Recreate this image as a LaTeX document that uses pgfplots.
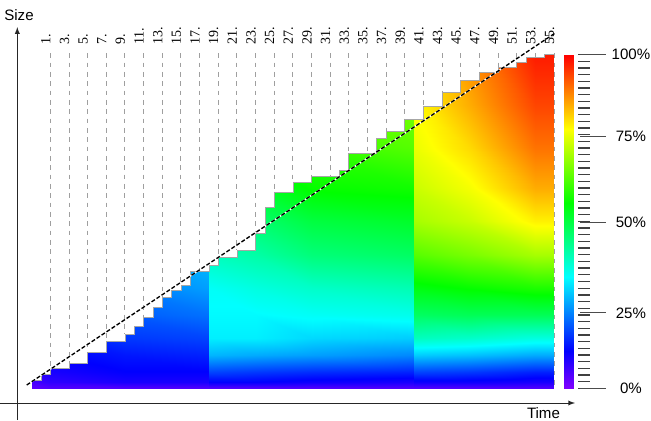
\documentclass[border=0pt]{standalone}
\usepackage{fontspec}
\setmainfont{Liberation Sans}
\newfontfamily\lblfont{Liberation Serif}
\usepackage{pgfplots}
\pgfplotsset{compat=1.18}

% rainbow: hue 270 (violet) -> 0 (red)
\pgfplotsset{colormap={hue}{rgb255(0cm)=(127,0,255) rgb255(1cm)=(0,0,255) rgb255(3cm)=(0,255,255) rgb255(5cm)=(0,255,0) rgb255(7cm)=(255,255,0) rgb255(9cm)=(255,0,0)}}

\begin{document}
\begin{tikzpicture}
\begin{axis}[
  x=6.995pt, y=2.5035pt,
  xmin=-3.399, xmax=66.40, ymin=-9.497, ymax=116.33,
  hide axis, clip=false,
  colormap name=hue,
  point meta min=0, point meta max=100,
  unbounded coords=jump,
]
% colour field (share at each height), rows = levels, 12 x nodes per row
\addplot[surf, shader=interp, mesh/cols=12, point meta=explicit]
  table[x=x, y=y, meta=c, row sep=\\] {
x y c \\
0 0 3 \\ 2 0 4 \\ 10 0 4 \\ 19 0 4 \\ 19 0 4 \\ 24 0 4 \\ 30 0 4 \\ 41 0 4 \\ 41 0 4 \\ 47 0 4 \\ 54 0 4 \\ 56 0 4 \\
0 2 5 \\ 2 2 7 \\ 10 2 9 \\ 19 2 9 \\ 19 2 11 \\ 24 2 11 \\ 30 2 10 \\ 41 2 9 \\ 41 2 10 \\ 47 2 10 \\ 54 2 9 \\ 56 2 9 \\
0 5 7 \\ 2 5 9 \\ 10 5 11 \\ 19 5 11 \\ 19 5 17 \\ 24 5 16 \\ 30 5 15 \\ 41 5 14 \\ 41 5 17 \\ 47 5 16 \\ 54 5 14 \\ 56 5 14 \\
0 10 10 \\ 2 10 11 \\ 10 10 13 \\ 19 10 14 \\ 19 10 27 \\ 24 10 26 \\ 30 10 25 \\ 41 10 23 \\ 41 10 29 \\ 47 10 28 \\ 54 10 26 \\ 56 10 26 \\
0 15 12 \\ 2 15 13 \\ 10 15 16 \\ 19 15 17 \\ 19 15 32 \\ 24 15 32 \\ 30 15 30 \\ 41 15 29 \\ 41 15 39 \\ 47 15 38 \\ 54 15 36 \\ 56 15 36 \\
0 22 14 \\ 2 22 15 \\ 10 22 19 \\ 19 22 21 \\ 19 22 33 \\ 24 22 33 \\ 30 22 34 \\ 41 22 35 \\ 41 22 47 \\ 47 22 48 \\ 54 22 48 \\ 56 22 48 \\
0 30 16 \\ 2 30 17 \\ 10 30 22 \\ 19 30 25 \\ 19 30 34 \\ 24 30 36 \\ 30 30 38 \\ 41 30 40 \\ 41 30 54 \\ 47 30 56 \\ 54 30 58 \\ 56 30 58 \\
0 40 18 \\ 2 40 19 \\ 10 40 25 \\ 19 40 28 \\ 19 40 39 \\ 24 40 41 \\ 30 40 45 \\ 41 40 47 \\ 41 40 63 \\ 47 40 66 \\ 54 40 70 \\ 56 40 70 \\
0 50 20 \\ 2 50 21 \\ 10 50 28 \\ 19 50 31 \\ 19 50 45 \\ 24 50 46 \\ 30 50 50 \\ 41 50 52 \\ 41 50 70 \\ 47 50 73 \\ 54 50 79 \\ 56 50 79 \\
0 60 22 \\ 2 60 23 \\ 10 60 30 \\ 19 60 33 \\ 19 60 50 \\ 24 60 52 \\ 30 60 56 \\ 41 60 57 \\ 41 60 73 \\ 47 60 77 \\ 54 60 85 \\ 56 60 85 \\
0 72 24 \\ 2 72 25 \\ 10 72 32 \\ 19 72 35 \\ 19 72 55 \\ 24 72 57 \\ 30 72 60 \\ 41 72 63 \\ 41 72 76 \\ 47 72 81 \\ 54 72 90 \\ 56 72 90 \\
0 85 26 \\ 2 85 27 \\ 10 85 34 \\ 19 85 37 \\ 19 85 60 \\ 24 85 62 \\ 30 85 64 \\ 41 85 66 \\ 41 85 78 \\ 47 85 85 \\ 54 85 94 \\ 56 85 94 \\
0 101 28 \\ 2 101 29 \\ 10 101 36 \\ 19 101 39 \\ 19 101 65 \\ 24 101 67 \\ 30 101 68 \\ 41 101 70 \\ 41 101 80 \\ 47 101 88 \\ 54 101 98 \\ 56 101 98 \\
};
% white above the size of each step
\addplot[fill=white, draw=none, const plot] coordinates {
 (0,2.5)(1,4.3)(2,6.1)(3,6.1)(4,7.6)(5,7.6)(6,10.9)(7,10.9)(8,14.2)(9,14.2)
 (10,16.3)(11,18.7)(12,21.4)(13,24.4)(14,27.4)(15,29.5)(16,30.9)(17,35.1)(18,35.1)(19,36.9)
 (20,39.3)(21,39.3)(22,41.4)(23,41.4)(24,46.5)(25,54.3)(26,58.8)(27,58.8)(28,61.8)(29,61.8)
 (30,63.6)(31,63.6)(32,63.6)(33,65.4)(34,70.5)(35,70.5)(36,70.5)(37,75.0)(38,77.1)(39,77.1)
 (40,80.7)(41,80.7)(42,84.6)(43,84.6)(44,88.8)(45,88.8)(46,92.4)(47,92.4)(48,94.8)(49,94.8)
 (50,96.3)(51,96.3)(52,97.8)(53,99.3)(54,99.3)(55,100)(56,100)(56,102)(0,102)} -- cycle;
\addplot[gray!70, line width=0.5pt, const plot] coordinates {
 (0,2.5)(1,4.3)(2,6.1)(3,6.1)(4,7.6)(5,7.6)(6,10.9)(7,10.9)(8,14.2)(9,14.2)
 (10,16.3)(11,18.7)(12,21.4)(13,24.4)(14,27.4)(15,29.5)(16,30.9)(17,35.1)(18,35.1)(19,36.9)
 (20,39.3)(21,39.3)(22,41.4)(23,41.4)(24,46.5)(25,54.3)(26,58.8)(27,58.8)(28,61.8)(29,61.8)
 (30,63.6)(31,63.6)(32,63.6)(33,65.4)(34,70.5)(35,70.5)(36,70.5)(37,75.0)(38,77.1)(39,77.1)
 (40,80.7)(41,80.7)(42,84.6)(43,84.6)(44,88.8)(45,88.8)(46,92.4)(47,92.4)(48,94.8)(49,94.8)
 (50,96.3)(51,96.3)(52,97.8)(53,99.3)(54,99.3)(55,100)(56,100)};
% time marks
\addplot[gray!75, line width=0.75pt, dash pattern=on 3.5pt off 3.5pt] coordinates {
 (2,100.4)(2,6.1)(2,nan) (4,100.4)(4,7.6)(4,nan) (6,100.4)(6,10.9)(6,nan) (8,100.4)(8,14.2)(8,nan)
 (10,100.4)(10,16.3)(10,nan) (12,100.4)(12,21.4)(12,nan) (14,100.4)(14,27.4)(14,nan) (16,100.4)(16,30.9)(16,nan)
 (18,100.4)(18,35.1)(18,nan) (20,100.4)(20,39.3)(20,nan) (22,100.4)(22,41.4)(22,nan) (24,100.4)(24,46.5)(24,nan)
 (26,100.4)(26,58.8)(26,nan) (28,100.4)(28,61.8)(28,nan) (30,100.4)(30,63.6)(30,nan) (32,100.4)(32,63.6)(32,nan)
 (34,100.4)(34,70.5)(34,nan) (36,100.4)(36,70.5)(36,nan) (38,100.4)(38,77.1)(38,nan) (40,100.4)(40,80.7)(40,nan)
 (42,100.4)(42,84.6)(42,nan) (44,100.4)(44,88.8)(44,nan) (46,100.4)(46,92.4)(46,nan) (48,100.4)(48,94.8)(48,nan)
 (50,100.4)(50,96.3)(50,nan) (52,100.4)(52,97.8)(52,nan) (54,100.4)(54,99.3)(54,nan) (56,100.4)(56,0)};
% diagonal
\addplot[white, line width=1pt] coordinates {(-0.536,0.99)(56.11,106.4)};
\addplot[black, line width=1pt, dash pattern=on 3pt off 1.5pt] coordinates {(-0.536,0.99)(56.11,106.4)};
% colour key
\addplot[surf, shader=interp, mesh/cols=2, point meta=explicit]
  table[x=x, y=y, meta=c, row sep=\\] {
x y c \\
57.07 0 0 \\ 58.07 0 0 \\
57.07 11.11 11.11 \\ 58.07 11.11 11.11 \\
57.07 33.33 33.33 \\ 58.07 33.33 33.33 \\
57.07 55.56 55.56 \\ 58.07 55.56 55.56 \\
57.07 77.78 77.78 \\ 58.07 77.78 77.78 \\
57.07 100 100 \\ 58.07 100 100 \\
};
\pgfplotsinvokeforeach{0,2,...,100}{
  \draw[black!75, line width=1pt] (axis cs:58.60,#1) -- (axis cs:59.86,#1);}
\pgfplotsinvokeforeach{0,22.6,49.6,75.4,100}{
  \draw[black!70, line width=0.8pt] (axis cs:58.79,#1) -- (axis cs:61.55,#1);}
\node[font=\fontsize{11.3}{13}\selectfont] at (axis cs:64.25,0) {0\%};
\node[font=\fontsize{11.3}{13}\selectfont] at (axis cs:64.25,22.6) {25\%};
\node[font=\fontsize{11.3}{13}\selectfont] at (axis cs:64.25,49.6) {50\%};
\node[font=\fontsize{11.3}{13}\selectfont] at (axis cs:64.25,75.4) {75\%};
\node[font=\fontsize{11.3}{13}\selectfont] at (axis cs:64.25,100) {100\%};
% time labels
\pgfplotsinvokeforeach{2,4,...,56}{
  \node[rotate=90, anchor=base west, inner sep=0pt, font=\lblfont\fontsize{10.5}{12}\selectfont]
    at (axis cs:#1,102.8) {\pgfmathparse{int(#1-1)}\pgfmathresult.};}
% axes
\draw[black!85, line width=0.75pt, -latex] (axis cs:-3.399,-4.40) -- (axis cs:58.25,-4.40);
\draw[black!85, line width=0.75pt, -latex] (axis cs:-1.544,-9.497) -- (axis cs:-1.544,108.2);
\node[anchor=base, font=\fontsize{11.3}{13}\selectfont] at (axis cs:-1.361,110.2) {Size};
\node[anchor=base, font=\fontsize{11.3}{13}\selectfont] at (axis cs:54.87,-8.897) {Time};
\coordinate (bbA) at (axis cs:-3.399,-9.497);
\coordinate (bbB) at (axis cs:66.40,116.33);
\end{axis}
\pgfresetboundingbox
\useasboundingbox (bbA) rectangle (bbB);
\end{tikzpicture}
\end{document}
